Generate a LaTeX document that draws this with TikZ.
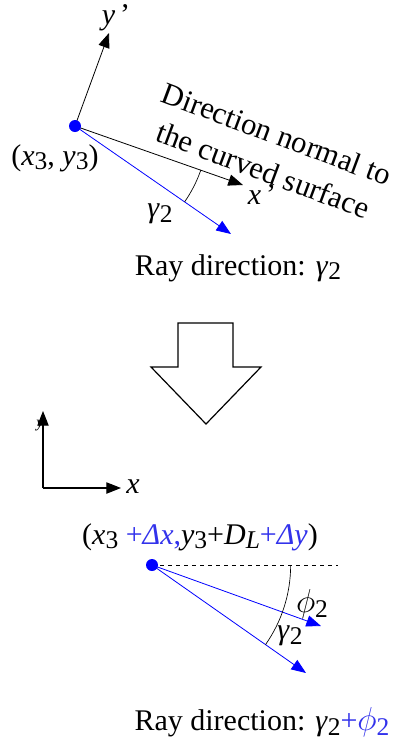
\documentclass[tikz,border=0pt]{standalone}
\usepackage{fontspec}
\setmainfont{Liberation Serif}
\usetikzlibrary{arrows.meta,angles}
\definecolor{rayblue}{RGB}{0,0,255}
\definecolor{txtblue}{RGB}{50,50,235}
\newcommand\sbs[1]{\raisebox{-0.35ex}{\scalebox{0.85}{#1}}}
\newcommand\phisym{\scalebox{1.2}{$\phi$}}
\tikzset{
  axis/.style={line width=0.6pt,-{Triangle[length=11pt,width=8.5pt]}},
  ray/.style={rayblue,line width=0.6pt,-{Triangle[length=11pt,width=8.5pt]}},
  dotnode/.style={circle,fill=rayblue,inner sep=0pt,minimum size=9pt},
  lbl/.style={inner sep=0pt,font=\fontsize{22.5}{26}\selectfont},
  anglearc/.style={draw,line width=0.5pt}
}
\begin{document}
\begin{tikzpicture}[x=0.75pt,y=-0.75pt]
\useasboundingbox (0,0) rectangle (402,744);
% ---- top part
\coordinate (d1) at (75,126);
\coordinate (yp) at (109,33);
\coordinate (xp) at (243,185);
\coordinate (r1) at (231,234);
\draw[axis] (d1) -- (yp);
\draw[axis] (d1) -- (xp);
\draw[ray] (d1) -- (r1);
\pic[anglearc,angle radius=100pt] {angle=r1--d1--xp};
\node[dotnode] (dot1) at (d1) {};
\node[lbl] (lyp) at (116,18) {\textit{y}\,\textquoteright};
\node[lbl] (lxp) at (262,195) {\textit{x}\,\textquoteright};
\node[lbl] (lg1) at (160,214) {\textit{γ}\sbs{2}};
\node[lbl] (lp1) at (55,158) {(\textit{x}\sbs{3}, \textit{y}\sbs{3})};
\node[lbl,align=center,rotate=-20.5,font=\fontsize{23}{29}\selectfont] (ldir) at (270,152) {Direction normal to\\the curved surface};
\node[lbl] (lray1) at (238,268) {Ray direction: \textit{γ}\sbs{2}};
% ---- block arrow
\draw[line width=0.9pt] (178,323) -- (233,323) -- (233,367) -- (261,367) -- (206,424) -- (151,367) -- (178,367) -- cycle;
% ---- axes
\coordinate (o) at (43,488);
\coordinate (xa) at (121,488);
\coordinate (ya) at (43,411);
\node[lbl,font=\fontsize{12}{14}\selectfont] (ly) at (40,426) {\textit{y}};
\draw[axis,line width=0.8pt] (o) -- (xa);
\draw[axis,line width=0.8pt] (o) -- (ya);
\node[lbl] (lx) at (133,487) {\textit{x}};
% ---- bottom part
\coordinate (d2) at (152,565);
\coordinate (h) at (338,565);
\coordinate (t1) at (321,626);
\coordinate (t2) at (306,673);
\draw[dashed,line width=0.5pt] (d2) -- (h);
\draw[ray] (d2) -- (t1);
\draw[ray] (d2) -- (t2);
\pic[anglearc,angle radius=104pt] {angle=t2--d2--h};
\node[dotnode] (dot2) at (d2) {};
\node[lbl] (lp2) at (200,537) {(\textit{x}\sbs{3} \textcolor{txtblue}{+\textit{Δx},}\textit{y}\sbs{3}+\textit{D}\sbs{\textit{L}}\textcolor{txtblue}{+\textit{Δy}})};
\node[lbl] (lphi) at (312,604) {\phisym\sbs{2}};
\node[lbl] (lg2) at (290,636) {\textit{γ}\sbs{2}};
\node[lbl] (lray2) at (262,722) {Ray direction: \textit{γ}\sbs{2}\textcolor{txtblue}{+\phisym\sbs{2}}};
\end{tikzpicture}
\end{document}
